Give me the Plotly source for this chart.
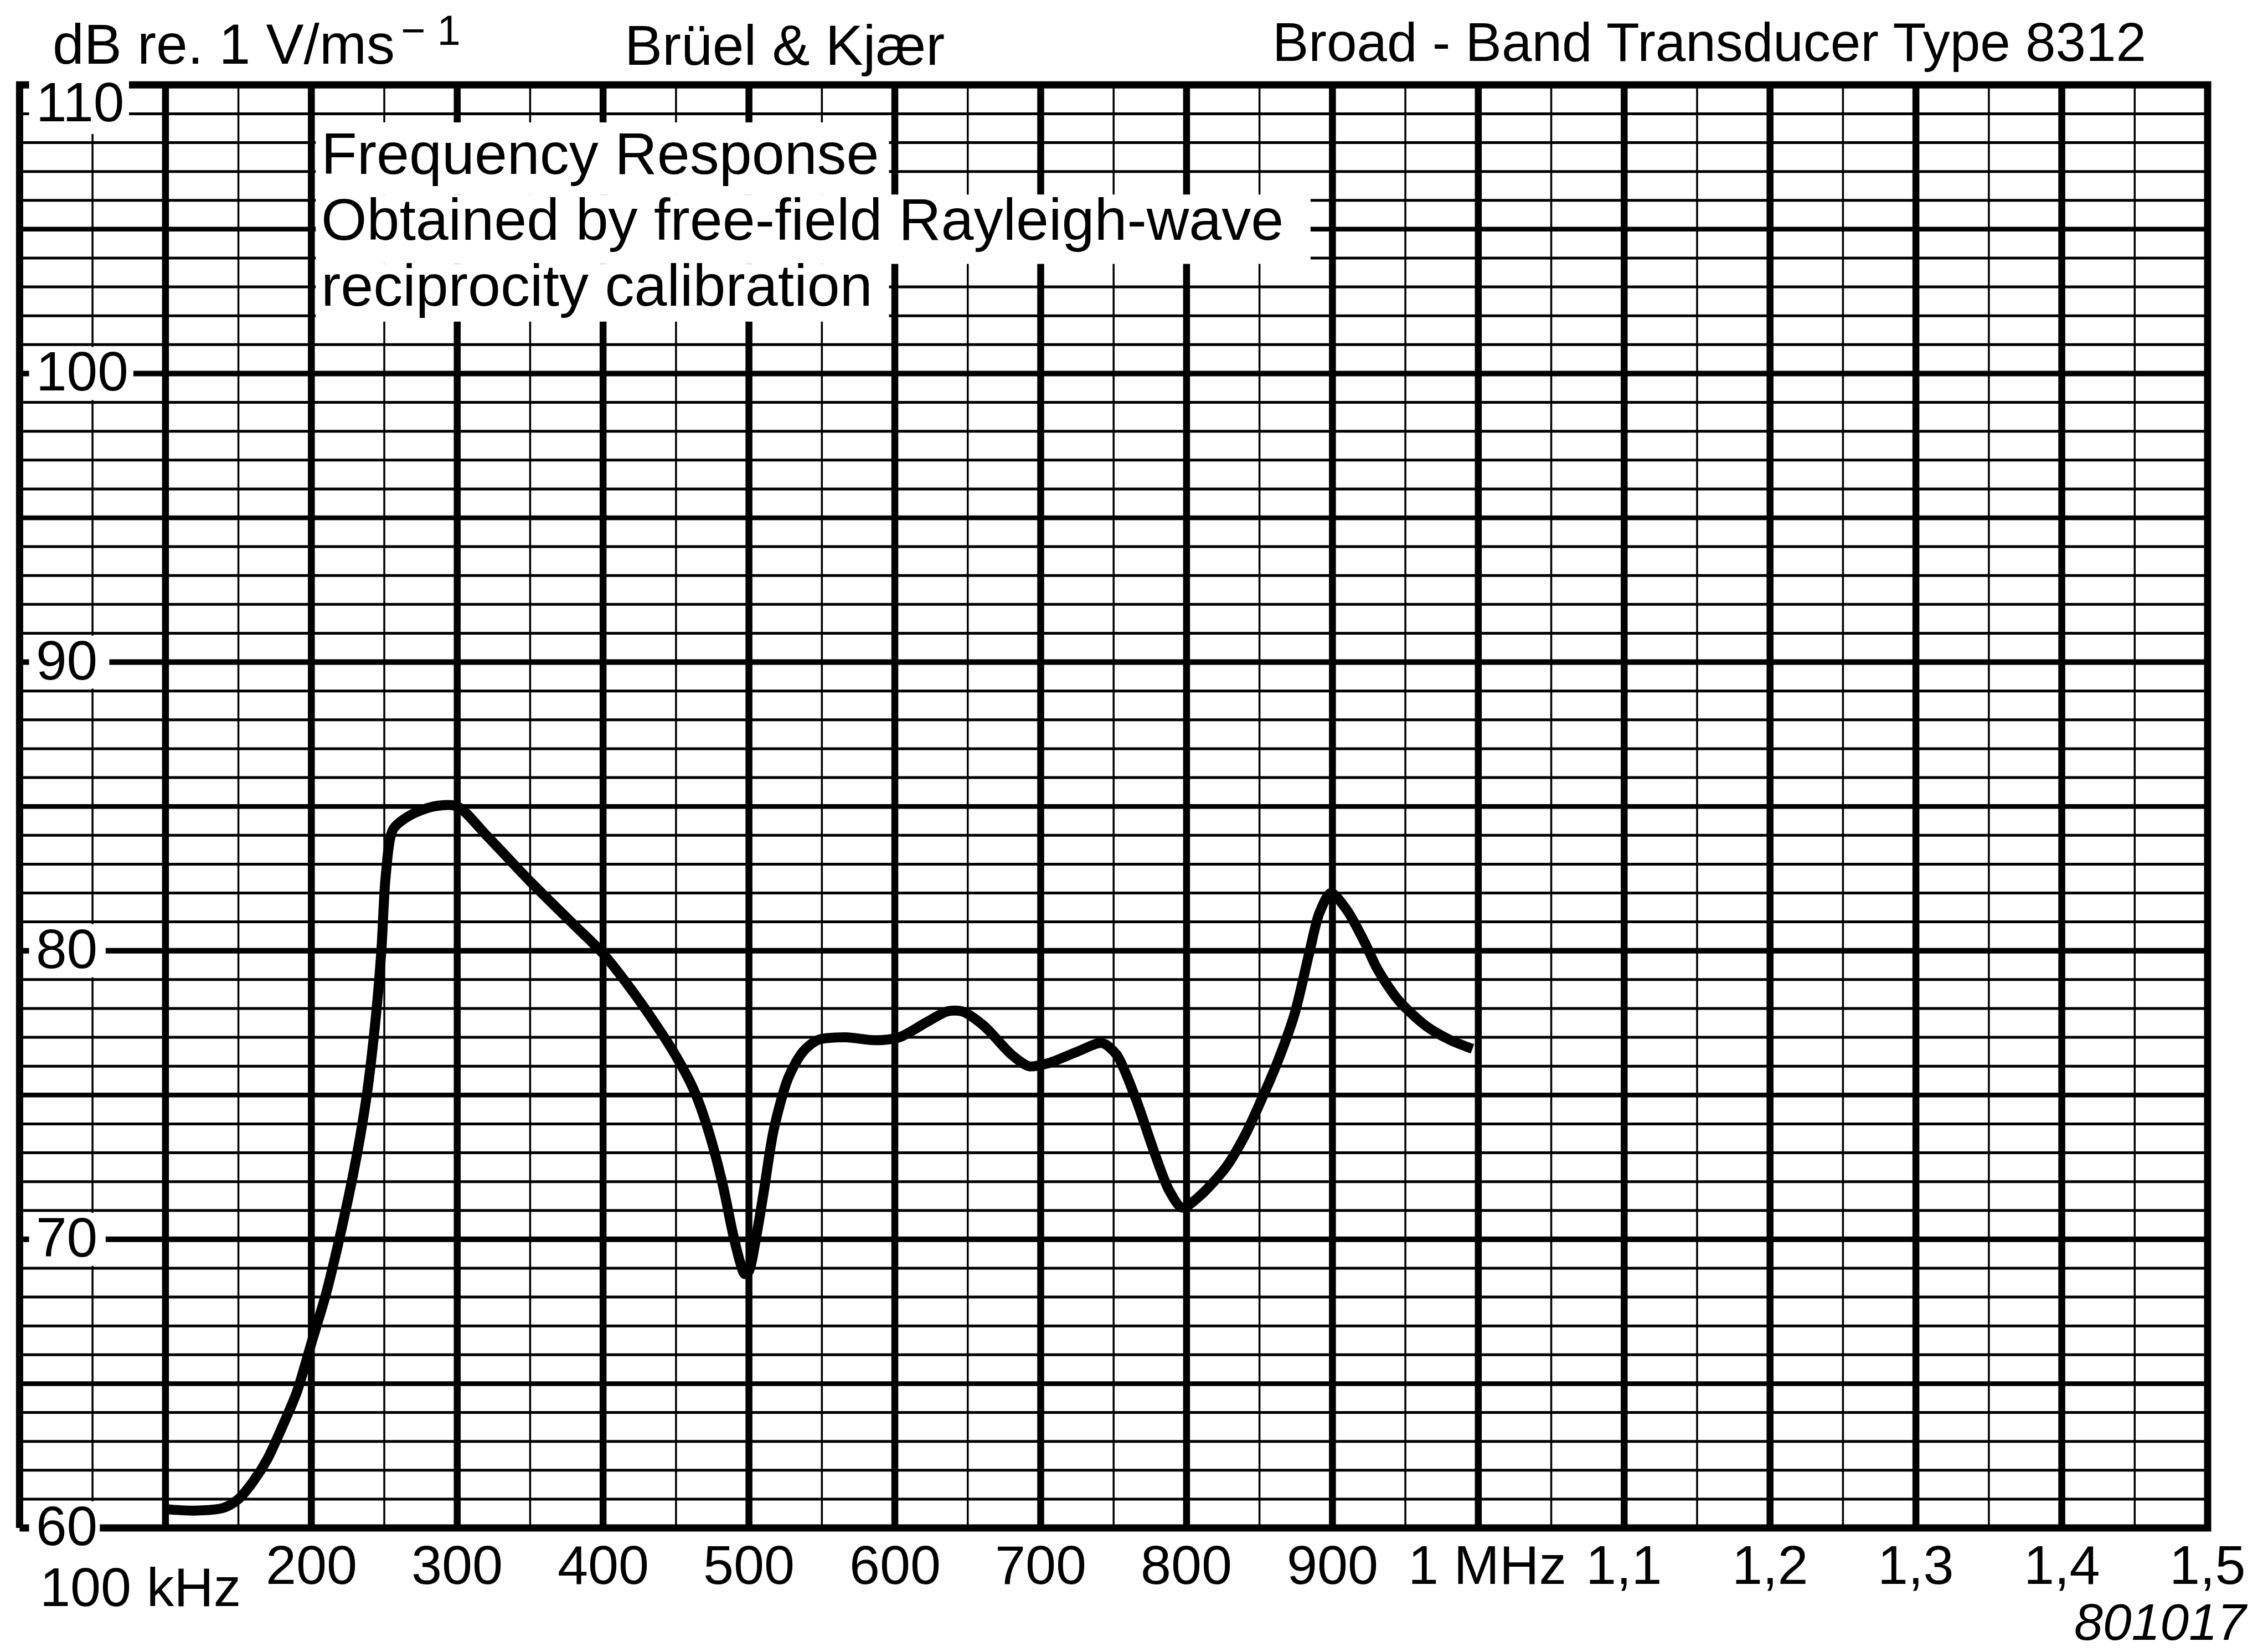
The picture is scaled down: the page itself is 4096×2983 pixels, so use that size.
import plotly.graph_objects as go

# ---------------- data ----------------
freq_khz = [100, 120, 140, 150, 160, 170, 180, 190, 200, 210, 220, 230, 238, 244, 248,
            251, 256, 268, 284, 300, 320, 350, 380, 400, 423, 447, 462, 472, 482, 489,
            494, 497, 500, 504, 510, 517, 527, 537, 547, 566, 586, 603, 621, 636, 646, 661,
            680, 692, 705, 725, 742, 752, 765, 778, 788, 797, 809, 827, 840, 851, 862, 874,
            884, 891, 899, 910, 922, 931, 945, 964, 981, 996]
resp_db = [60.65, 60.6, 60.7, 61.0, 61.6, 62.4, 63.5, 64.7, 66.4, 68.1, 70.2, 72.6, 75.0, 77.6, 80.0,
           82.6, 84.2, 84.7, 85.0, 85.0, 84.0, 82.4, 80.9, 79.9, 78.4, 76.6, 75.2, 73.8, 71.9, 70.2,
           69.2, 68.8, 68.9, 69.8, 71.6, 73.8, 75.6, 76.5, 76.9, 77.0, 76.9, 77.0, 77.5, 77.9, 77.9, 77.4,
           76.4, 76.0, 76.1, 76.5, 76.8, 76.4, 74.9, 73.0, 71.7, 71.1, 71.5, 72.5, 73.6, 74.8, 76.1, 77.8,
           79.9, 81.3, 82.0, 81.4, 80.3, 79.35, 78.3, 77.4, 76.9, 76.6]

x_tick_vals = [100, 200, 300, 400, 500, 600, 700, 800, 900, 1000, 1100, 1200, 1300, 1400, 1500]
x_tick_text = ["100 kHz", "200", "300", "400", "500", "600", "700", "800", "900", "1 MHz",
               "1,1", "1,2", "1,3", "1,4", "1,5"]
y_tick_vals = [110, 100, 90, 80, 70, 60]
y_tick_text = ["110", "100", "90", "80", "70", "60"]

header_left = "dB re. 1 V/ms"
header_left_sup = "− 1"
header_mid = "Brüel & Kjær"
header_right = "Broad - Band Transducer Type 8312"
note_lines = ["Frequency Response", "Obtained by free-field Rayleigh-wave", "reciprocity calibration"]
figure_no = "801017"

X_MIN, X_MAX = 0, 1500
Y_MIN, Y_MAX = 60, 110

# ---------------- geometry ----------------
W, H = 4096, 2983
X0_PX, X1_PX = 35.4, 3987.0
Y110_PX, Y60_PX = 153.3, 2759.0
L, RE, T, BE = 20, 4003, 138, 2775
kpp = (X1_PX - X0_PX) / (X_MAX - X_MIN)
dpp = (Y60_PX - Y110_PX) / (Y_MAX - Y_MIN)
xr = [X_MIN - (X0_PX - L) / kpp, X_MAX + (RE - X1_PX) / kpp]
yr = [Y_MIN - (BE - Y60_PX) / dpp, Y_MAX + (Y110_PX - T) / dpp]


def py_paper(py):
    return (BE - py) / (BE - T)


def px_paper(px):
    return (px - L) / (RE - L)


FONT = "Liberation Sans, Arial, Helvetica, sans-serif"
BLACK = "#000000"

fig = go.Figure()


def add_lines(segments, width):
    xs, ys = [], []
    for (xa, ya, xb, yb) in segments:
        xs += [xa, xb, None]
        ys += [ya, yb, None]
    fig.add_trace(go.Scatter(x=xs, y=ys, mode="lines", hoverinfo="skip",
                             line=dict(color=BLACK, width=width), showlegend=False))


# grid
v_minor = [f for f in range(50, X_MAX, 100)]
v_major = [f for f in range(100, X_MAX, 100)]
h_1 = [d for d in range(Y_MIN + 1, Y_MAX) if d % 5 != 0]
h_5 = [d for d in range(Y_MIN + 1, Y_MAX) if d % 5 == 0 and d % 10 != 0]
h_10 = [d for d in range(Y_MIN + 1, Y_MAX) if d % 10 == 0]

add_lines([(f, Y_MIN, f, Y_MAX) for f in v_minor], 3.5)
add_lines([(X_MIN, d, X_MAX, d) for d in h_1], 5)
add_lines([(X_MIN, d, X_MAX, d) for d in h_5], 8.5)
add_lines([(X_MIN, d, X_MAX, d) for d in h_10], 10)
add_lines([(f, Y_MIN, f, Y_MAX) for f in v_major], 12.5)
fig.add_trace(go.Scatter(x=[X_MIN, X_MAX, X_MAX, X_MIN, X_MIN], y=[Y_MIN, Y_MIN, Y_MAX, Y_MAX, Y_MIN],
                         mode="lines", hoverinfo="skip", line=dict(color=BLACK, width=13),
                         showlegend=False))

# response curve
fig.add_trace(go.Scatter(x=freq_khz, y=resp_db, mode="lines", hoverinfo="skip",
                         line=dict(color=BLACK, width=18, shape="spline", smoothing=0.8),
                         showlegend=False))

shapes = []
# white boxes behind the dB labels
label_boxes = {110: (75, 108.3, yr[1]), 100: (78, 99.08, 100.92), 90: (61.5, 89.08, 90.92),
               80: (59, 79.08, 80.92), 70: (59, 69.08, 70.92), 60: (55, yr[0], 60.92)}
for v in y_tick_vals:
    x1, y0, y1 = label_boxes[v]
    shapes.append(dict(type="rect", xref="x", yref="y", x0=6.5, x1=x1, y0=y0, y1=y1,
                       fillcolor="white", line=dict(width=0), layer="above"))
# white boxes behind the note
for (x1, y0, y1) in [(596, 106.2, 108.7), (885, 103.8, 106.2), (596, 101.8, 103.8)]:
    shapes.append(dict(type="rect", xref="x", yref="y", x0=203, x1=x1, y0=y0, y1=y1,
                       fillcolor="white", line=dict(width=0), layer="above"))

ann = []
# y labels
y_shift = {110: -31}
for v, t in zip(y_tick_vals, y_tick_text):
    ann.append(dict(x=X_MIN, y=v, xref="x", yref="y", text=t, showarrow=False,
                    xanchor="left", yanchor="middle", xshift=28, yshift=y_shift.get(v, 4),
                    font=dict(family=FONT, size=100, color=BLACK)))
# x labels
x_shift = {100: -45, 1000: 16}
for v, t in zip(x_tick_vals, x_tick_text):
    ypx = 2865 if v == 100 else 2825
    ann.append(dict(x=v, y=py_paper(ypx), xref="x", yref="paper", text=t, showarrow=False,
                    xanchor="center", yanchor="middle", xshift=x_shift.get(v, 0),
                    font=dict(family=FONT, size=99, color=BLACK)))
ann.append(dict(x=X_MAX, y=py_paper(2929), xref="x", yref="paper", text="<i>" + figure_no + "</i>",
                showarrow=False, xanchor="right", yanchor="middle", xshift=74, borderpad=0,
                font=dict(family=FONT, size=93, color=BLACK)))
# note
for t, yv in zip(note_lines, [107.63, 105.34, 103.05]):
    ann.append(dict(x=206, y=yv, xref="x", yref="y", text=t, showarrow=False,
                    xanchor="left", yanchor="middle",
                    font=dict(family=FONT, size=106, color=BLACK)))
# header
ann.append(dict(x=px_paper(93), y=py_paper(80), xref="paper", yref="paper", text=header_left,
                showarrow=False, xanchor="left", yanchor="middle",
                font=dict(family=FONT, size=102, color=BLACK)))
ann.append(dict(x=px_paper(722), y=py_paper(55), xref="paper", yref="paper", text=header_left_sup,
                showarrow=False, xanchor="left", yanchor="middle",
                font=dict(family=FONT, size=76, color=BLACK)))
ann.append(dict(x=px_paper(1126), y=py_paper(82), xref="paper", yref="paper", text=header_mid,
                showarrow=False, xanchor="left", yanchor="middle",
                font=dict(family=FONT, size=102, color=BLACK)))
ann.append(dict(x=px_paper(3878), y=py_paper(76), xref="paper", yref="paper", text=header_right,
                showarrow=False, xanchor="right", yanchor="middle",
                font=dict(family=FONT, size=98, color=BLACK)))

fig.update_layout(
    width=W, height=H,
    margin=dict(l=L, r=W - RE, t=T, b=H - BE, pad=0, autoexpand=False),
    paper_bgcolor="white", plot_bgcolor="white",
    xaxis=dict(range=xr, showgrid=False, zeroline=False, showticklabels=False, ticks="",
               showline=False, fixedrange=True),
    yaxis=dict(range=yr, showgrid=False, zeroline=False, showticklabels=False, ticks="",
               showline=False, fixedrange=True),
    shapes=shapes, annotations=ann, showlegend=False,
)

fig.write_html("out.html", config={"displayModeBar": False})
